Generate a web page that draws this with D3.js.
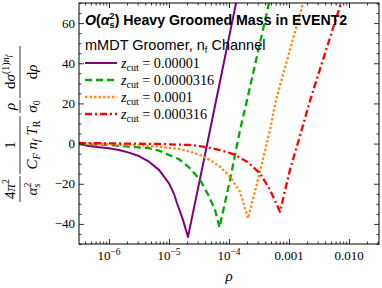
<!DOCTYPE html>
<html>
<head>
<meta charset="utf-8">
<script src="https://cdn.jsdelivr.net/npm/d3@7"></script>
<style>
  body { margin: 0; background: #fff; }
  svg { display: block; }
  .serif { font-family: "Liberation Serif", "DejaVu Serif", serif; }
  .sans { font-family: "Liberation Sans", Arial, sans-serif; }
</style>
</head>
<body>
<div id="chart"></div>
<script>
// series: [rho, value]
const zcut1 = [[3.16e-7, -0.2], [4.64e-7, -1.2], [6.81e-7, -1.8], [1.0e-6, -2.3], [1.47e-6, -3.2],
  [2.15e-6, -4.5], [3.16e-6, -6.2], [4.64e-6, -9.0], [6.81e-6, -13.1], [1.0e-5, -19.8],
  [1.21e-5, -25.0], [1.36e-5, -29.7], [1.71e-5, -38.0], [2.07e-5, -46.5], [3.29e-5, -17.5],
  [5.21e-5, 11.5], [8.25e-5, 40.6], [1.31e-4, 70], [1.65e-4, 84.5]];
const zcut2 = [[3.16e-7, -0.2], [1.0e-6, -0.7], [2.15e-6, -1.5], [4.64e-6, -2.3], [6.81e-6, -3.5],
  [1.0e-5, -5.7], [1.47e-5, -7.8], [2.15e-5, -11.8], [3.29e-5, -18.1], [4.52e-5, -25.6],
  [5.84e-5, -33.0], [6.95e-5, -41.8], [1.04e-4, -18.1], [1.53e-4, 6.8], [2.0e-4, 21.7],
  [4.64e-4, 70], [5.84e-4, 84]];
const zcut3 = [[3.16e-7, 0.2], [2.15e-6, -0.7], [6.81e-6, -1.5], [1.47e-5, -2.7], [2.24e-5, -4.0],
  [3.29e-5, -5.7], [4.83e-5, -8.2], [7.08e-5, -11.5], [1.04e-4, -16.5], [1.53e-4, -24.0],
  [2.07e-4, -37.2], [2.93e-4, -19.8], [4.83e-4, 6.8], [6.07e-4, 21.7], [1.71e-3, 70], [2.15e-3, 82]];
const zcut4 = [[3.16e-7, 0.3], [6.81e-6, -0.2], [2.24e-5, -0.7], [3.69e-5, -1.5], [7.08e-5, -3.2],
  [1.17e-4, -5.2], [2.0e-4, -9.0], [3.29e-4, -14.8], [4.83e-4, -23.1], [7.08e-4, -33.9],
  [1.04e-3, -13.0], [1.58e-3, 5.5], [2.24e-3, 21.4], [7.36e-3, 70], [9.26e-3, 80]];

const seriesNames = ["0.00001", "0.0000316", "0.0001", "0.000316"];
const seriesData = [zcut1, zcut2, zcut3, zcut4];
const seriesColors = ["#800080", "#00aa00", "#ff8c1a", "#ff0000"];
const seriesDash = [null, "7,4", "2.5,2", "7,3,2,3"];

const xMajorTicks = [1e-6, 1e-5, 1e-4, 1e-3, 1e-2];
const xTickLabels = [["10", "−6"], ["10", "−5"], ["10", "−4"], ["0.001", ""], ["0.010", ""]];
const yMajorTicks = [-40, -20, 0, 20, 40, 60];
const yTickLabels = ["−40", "−20", "0", "20", "40", "60"];

const width = 382, height = 288;
const plot = { left: 79, right: 379, top: 3, bottom: 244 };

const svg = d3.select("#chart").append("svg")
  .attr("width", width)
  .attr("height", height);

const x = d3.scaleLog().domain([Math.pow(10, -6.5), Math.pow(10, -1.5)]).range([plot.left, plot.right]);
const y = d3.scaleLinear().domain([-50, 70]).range([plot.bottom, plot.top]);

// minor ticks 2..9 x 10^k inside the domain
const xMinor = [];
for (let k = -7; k <= -2; k++) {
  for (let m = 2; m <= 9; m++) {
    const v = m * Math.pow(10, k);
    if (v > x.domain()[0] && v < x.domain()[1]) xMinor.push(v);
  }
}
const yMinor = d3.range(-50, 71, 5).filter(v => !yMajorTicks.includes(v));

svg.append("clipPath").attr("id", "clip")
  .append("rect")
  .attr("x", plot.left).attr("y", plot.top)
  .attr("width", plot.right - plot.left).attr("height", plot.bottom - plot.top);

// curves
const line = d3.line().x(d => x(d[0])).y(d => y(d[1]));
const curves = svg.append("g").attr("clip-path", "url(#clip)");
seriesData.forEach((s, i) => {
  curves.append("path")
    .attr("d", line(s))
    .attr("fill", "none")
    .attr("stroke", seriesColors[i])
    .attr("stroke-width", i === 0 ? 2 : 2.3)
    .attr("stroke-dasharray", seriesDash[i])
    .attr("stroke-linejoin", "round");
});

// ticks on all four sides, pointing inward
function axisTicks(axisFn, scale, majors, minors, transform, sign) {
  [[majors, 5], [minors, 2.5]].forEach(([vals, len]) => {
    svg.append("g").attr("transform", transform)
      .call(axisFn(scale).tickValues(vals).tickSize(-len * sign).tickFormat(""))
      .call(g => g.select(".domain").remove());
  });
}
axisTicks(d3.axisBottom, x, xMajorTicks, xMinor, `translate(0,${plot.bottom})`, 1);
axisTicks(d3.axisTop, x, xMajorTicks, xMinor, `translate(0,${plot.top})`, 1);
axisTicks(d3.axisLeft, y, yMajorTicks, yMinor, `translate(${plot.left},0)`, 1);
axisTicks(d3.axisRight, y, yMajorTicks, yMinor, `translate(${plot.right},0)`, 1);
svg.selectAll(".tick line").attr("stroke", "#000").attr("stroke-width", 0.8);

svg.append("rect")
  .attr("x", plot.left).attr("y", plot.top)
  .attr("width", plot.right - plot.left).attr("height", plot.bottom - plot.top)
  .attr("fill", "none").attr("stroke", "#000").attr("stroke-width", 1);

// x tick labels
xMajorTicks.forEach((v, i) => {
  const t = svg.append("text").attr("class", "serif")
    .attr("x", x(v)).attr("y", 260)
    .attr("text-anchor", "middle").attr("font-size", 13)
    .text(xTickLabels[i][0]);
  if (xTickLabels[i][1]) {
    t.append("tspan").attr("dy", -5).attr("font-size", 9.5).text(xTickLabels[i][1]);
  }
});
// y tick labels
yMajorTicks.forEach((v, i) => {
  svg.append("text").attr("class", "serif")
    .attr("x", 75).attr("y", y(v) + 4.5)
    .attr("text-anchor", "end").attr("font-size", 13)
    .text(yTickLabels[i]);
});

// x label
svg.append("text").attr("class", "serif")
  .attr("x", 229).attr("y", 281)
  .attr("text-anchor", "middle").attr("font-size", 15).attr("font-style", "italic")
  .text("ρ");

// y label, built from stacked fractions, rotated
const yl = svg.append("g").attr("class", "serif").attr("font-size", 15)
  .attr("transform", "rotate(-90)");
const numY = 15, denY = 37, barY = 20;
function frac(from, to, numParts, denParts) {
  yl.append("line").attr("x1", -to).attr("x2", -from).attr("y1", barY).attr("y2", barY)
    .attr("stroke", "#000").attr("stroke-width", 0.8);
  const c = -(from + to) / 2;
  [[numParts, numY], [denParts, denY]].forEach(([parts, yy]) => {
    const t = yl.append("text").attr("x", c).attr("y", yy).attr("text-anchor", "middle");
    parts.forEach(p => {
      const ts = t.append("tspan").text(p.t);
      if (p.i) ts.attr("font-style", "italic");
      if (p.f) ts.attr("font-size", p.f);
      if (p.s) ts.attr("dy", p.s);
      if (p.dx) ts.attr("dx", p.dx);
    });
  });
}
frac(176, 202, [{ t: "4" }, { t: "π", i: 1 }, { t: "2", f: 10, s: -6 }],
  [{ t: "α", i: 1 }, { t: "2", f: 10, s: -6 }, { t: "s", i: 1, f: 10, s: 9, dx: -5 }]);
frac(116, 174, [{ t: "1" }],
  [{ t: "C", i: 1 }, { t: "F", i: 1, f: 10, s: 3 }, { t: " n", i: 1, s: -3 }, { t: "f", i: 1, f: 10, s: 3 },
   { t: " T", i: 1, s: -3 }, { t: "R", f: 10, s: 3 }]);
frac(100, 113, [{ t: "ρ", i: 1 }], [{ t: "σ", i: 1 }, { t: "0", f: 10, s: 3 }]);
frac(46, 98, [{ t: "d" }, { t: "σ", i: 1 }, { t: "(1)", f: 10, s: -6 }, { t: "n", i: 1, f: 10 }, { t: "f", i: 1, f: 8, s: 2 }],
  [{ t: "d" }, { t: "ρ", i: 1 }]);

// title block
const title = svg.append("text").attr("class", "sans")
  .attr("x", 85).attr("y", 25).attr("font-size", 14.2).attr("font-weight", "bold");
title.append("tspan").attr("font-style", "italic").text("O");
title.append("tspan").text("(");
title.append("tspan").attr("font-style", "italic").text("α");
title.append("tspan").attr("font-size", 9).attr("dy", -6).text("2");
title.append("tspan").attr("font-size", 9).attr("dx", -5).attr("dy", 9).text("s");
title.append("tspan").attr("dy", -3).text(") Heavy Groomed Mass in EVENT2");

const sub = svg.append("text").attr("class", "sans")
  .attr("x", 85).attr("y", 50).attr("font-size", 14.5);
sub.append("tspan").text("mMDT Groomer, n");
sub.append("tspan").attr("font-size", 9.5).attr("dy", 3).text("f");
sub.append("tspan").attr("dy", -3).text(" Channel");

// legend
const legendY = [63, 80, 97, 114];
seriesNames.forEach((name, i) => {
  svg.append("line")
    .attr("x1", 85).attr("x2", 117).attr("y1", legendY[i]).attr("y2", legendY[i])
    .attr("stroke", seriesColors[i])
    .attr("stroke-width", i === 0 ? 2 : 2.3)
    .attr("stroke-dasharray", seriesDash[i]);
  const t = svg.append("text").attr("class", "serif")
    .attr("x", 121).attr("y", legendY[i] + 5).attr("font-size", 14.2);
  t.append("tspan").attr("font-style", "italic").text("z");
  t.append("tspan").attr("font-size", 10).attr("dy", 3).text("cut");
  t.append("tspan").attr("dy", -3).text(" = " + name);
});
</script>
</body>
</html>
